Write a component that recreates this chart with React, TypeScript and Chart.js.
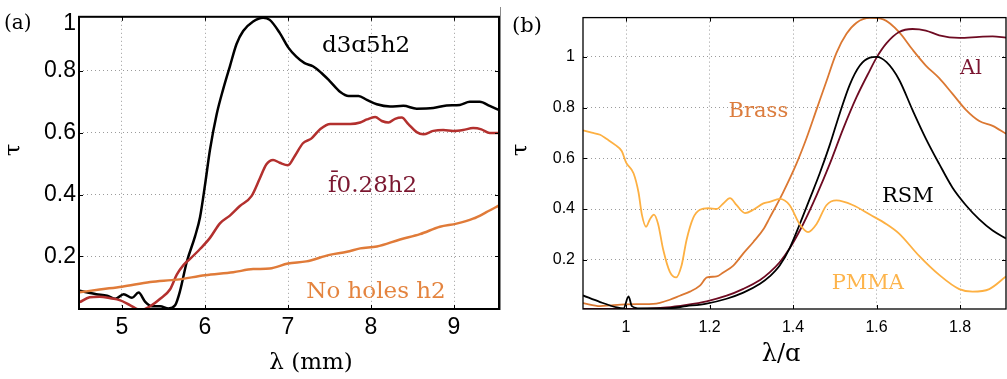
import React, { useEffect, useRef } from "react";
import { Chart, registerables } from "chart.js";

Chart.register(...registerables);

const SERIF = '"DejaVu Serif", "Liberation Serif", serif';
const SANS = '"Liberation Sans", Arial, sans-serif';

// ---------- Panel (a): τ vs λ (mm) ----------
const lamD3a5h2 = [4.49, 4.69, 4.82, 4.92, 5.02, 5.12, 5.2, 5.28, 5.36, 5.46, 5.56, 5.64, 5.7, 5.78, 5.88, 5.94, 6.0, 6.06, 6.14, 6.22, 6.3, 6.38, 6.46, 6.58, 6.7, 6.78, 6.9, 7.0, 7.1, 7.2, 7.3, 7.4, 7.5, 7.63, 7.73, 7.85, 7.95, 8.07, 8.23, 8.39, 8.55, 8.75, 8.91, 9.07, 9.19, 9.31, 9.43, 9.55];
const tauD3a5h2 = [0.089, 0.078, 0.073, 0.063, 0.078, 0.066, 0.083, 0.053, 0.039, 0.039, 0.032, 0.042, 0.089, 0.182, 0.265, 0.327, 0.431, 0.545, 0.659, 0.742, 0.815, 0.887, 0.929, 0.96, 0.972, 0.965, 0.923, 0.877, 0.846, 0.825, 0.815, 0.794, 0.768, 0.732, 0.719, 0.719, 0.706, 0.692, 0.685, 0.687, 0.678, 0.68, 0.688, 0.69, 0.7, 0.7, 0.687, 0.672];

const lamF028h2 = [4.49, 4.61, 4.73, 4.86, 4.98, 5.1, 5.22, 5.34, 5.46, 5.58, 5.66, 5.74, 5.82, 5.94, 6.06, 6.18, 6.3, 6.42, 6.56, 6.66, 6.74, 6.82, 6.9, 7.0, 7.08, 7.18, 7.28, 7.39, 7.51, 7.63, 7.75, 7.87, 7.95, 8.05, 8.13, 8.21, 8.29, 8.37, 8.45, 8.55, 8.63, 8.75, 8.87, 8.99, 9.11, 9.23, 9.33, 9.43, 9.55];
const tauF028h2 = [0.052, 0.068, 0.07, 0.065, 0.058, 0.042, 0.027, 0.039, 0.063, 0.094, 0.141, 0.172, 0.192, 0.224, 0.26, 0.307, 0.332, 0.363, 0.395, 0.452, 0.498, 0.512, 0.503, 0.495, 0.524, 0.566, 0.581, 0.612, 0.628, 0.628, 0.628, 0.633, 0.643, 0.651, 0.638, 0.633, 0.645, 0.649, 0.628, 0.602, 0.595, 0.606, 0.609, 0.606, 0.609, 0.615, 0.611, 0.599, 0.599];

const lamNoHoles = [4.49, 4.73, 5.0, 5.34, 5.66, 6.0, 6.34, 6.58, 6.78, 7.0, 7.22, 7.5, 7.71, 7.87, 8.07, 8.35, 8.59, 8.83, 9.03, 9.23, 9.39, 9.55];
const tauNoHoles = [0.084, 0.093, 0.102, 0.117, 0.125, 0.139, 0.149, 0.159, 0.161, 0.177, 0.184, 0.205, 0.215, 0.226, 0.232, 0.255, 0.272, 0.296, 0.306, 0.322, 0.343, 0.366];

const xTicksA = [5, 6, 7, 8, 9];
const yTicksA = [0.2, 0.4, 0.6, 0.8, 1];

// ---------- Panel (b): τ vs λ/a ----------
const lamRSM = [0.897, 0.938, 0.978, 0.994, 1.006, 1.014, 1.034, 1.097, 1.145, 1.193, 1.241, 1.281, 1.321, 1.344, 1.368, 1.392, 1.416, 1.44, 1.464, 1.488, 1.512, 1.536, 1.56, 1.584, 1.6, 1.624, 1.654, 1.686, 1.718, 1.75, 1.782, 1.814, 1.846, 1.878, 1.91];
const tauRSM = [0.059, 0.033, 0.012, 0.008, 0.055, 0.017, 0.008, 0.008, 0.017, 0.027, 0.046, 0.07, 0.105, 0.134, 0.177, 0.246, 0.34, 0.44, 0.541, 0.653, 0.778, 0.891, 0.966, 0.997, 1.0, 0.979, 0.91, 0.791, 0.678, 0.578, 0.484, 0.415, 0.359, 0.315, 0.284];

const lamAl = [0.897, 1.0, 1.097, 1.145, 1.193, 1.241, 1.281, 1.321, 1.344, 1.368, 1.392, 1.424, 1.456, 1.488, 1.52, 1.552, 1.584, 1.6, 1.624, 1.654, 1.686, 1.718, 1.75, 1.798, 1.846, 1.878, 1.91];
const tauAl = [0.006, 0.006, 0.012, 0.022, 0.036, 0.058, 0.085, 0.12, 0.15, 0.19, 0.245, 0.34, 0.453, 0.578, 0.716, 0.841, 0.947, 0.997, 1.054, 1.098, 1.11, 1.104, 1.085, 1.075, 1.079, 1.081, 1.076];

const lamBrass = [0.897, 0.938, 0.962, 1.0, 1.034, 1.065, 1.081, 1.105, 1.129, 1.153, 1.177, 1.194, 1.217, 1.233, 1.257, 1.281, 1.305, 1.329, 1.344, 1.376, 1.408, 1.432, 1.456, 1.48, 1.504, 1.528, 1.552, 1.584, 1.616, 1.654, 1.686, 1.718, 1.75, 1.782, 1.814, 1.846, 1.878, 1.91];
const tauBrass = [0.029, 0.017, 0.02, 0.024, 0.025, 0.026, 0.03, 0.042, 0.058, 0.074, 0.098, 0.13, 0.134, 0.15, 0.177, 0.225, 0.27, 0.32, 0.365, 0.465, 0.578, 0.678, 0.791, 0.904, 1.016, 1.091, 1.135, 1.154, 1.148, 1.098, 1.029, 0.966, 0.916, 0.854, 0.791, 0.747, 0.728, 0.697];

const lamPMMA = [0.897, 0.918, 0.938, 0.954, 0.974, 0.99, 1.0, 1.018, 1.03, 1.038, 1.048, 1.057, 1.067, 1.077, 1.089, 1.105, 1.12, 1.133, 1.145, 1.161, 1.177, 1.197, 1.217, 1.233, 1.249, 1.265, 1.285, 1.305, 1.329, 1.344, 1.368, 1.392, 1.416, 1.436, 1.456, 1.48, 1.504, 1.544, 1.584, 1.624, 1.654, 1.702, 1.75, 1.798, 1.83, 1.87, 1.91];
const tauPMMA = [0.71, 0.701, 0.693, 0.676, 0.653, 0.628, 0.584, 0.541, 0.465, 0.378, 0.33, 0.359, 0.378, 0.34, 0.24, 0.152, 0.13, 0.177, 0.278, 0.365, 0.397, 0.403, 0.4, 0.422, 0.443, 0.415, 0.384, 0.397, 0.422, 0.428, 0.44, 0.415, 0.34, 0.309, 0.34, 0.415, 0.434, 0.415, 0.378, 0.34, 0.303, 0.215, 0.14, 0.084, 0.074, 0.084, 0.134];

const xTicksB = [1, 1.2, 1.4, 1.6, 1.8];
const yTicksB = [0.2, 0.4, 0.6, 0.8, 1];

const GRID = "#9b9b9b";

type Series = { label: string; x: number[]; y: number[]; color: string };
type Note = { text: string; x: number; y: number; color: string; font: string };
type Txt = { text: string; x: number; y: number; font: string; rotate?: boolean; align?: CanvasTextAlign; baseline?: CanvasTextBaseline };

function pts(xs: number[], ys: number[]) {
  return xs.map((x, i) => ({ x, y: ys[i] }));
}

function fmt(v: number) {
  return String(Number(v.toFixed(2)));
}

function decorPlugin(frameWidth: number, tickLen: number, notes: Note[], texts: Txt[]) {
  return {
    id: "decor",
    afterDatasetsDraw(chart: any) {
      const { ctx, chartArea: a, scales } = chart;
      ctx.save();
      // inward tick marks on all four sides
      ctx.strokeStyle = "#000";
      ctx.lineWidth = 1;
      ctx.beginPath();
      for (const t of scales.x.ticks) {
        const px = Math.round(scales.x.getPixelForValue(t.value)) + 0.5;
        ctx.moveTo(px, a.bottom);
        ctx.lineTo(px, a.bottom - tickLen);
        ctx.moveTo(px, a.top);
        ctx.lineTo(px, a.top + tickLen);
      }
      for (const t of scales.y.ticks) {
        if (t.value >= scales.y.max - 1e-9) continue;
        const py = Math.round(scales.y.getPixelForValue(t.value)) + 0.5;
        ctx.moveTo(a.left, py);
        ctx.lineTo(a.left + tickLen, py);
        ctx.moveTo(a.right, py);
        ctx.lineTo(a.right - tickLen, py);
      }
      ctx.stroke();
      // frame
      ctx.lineWidth = frameWidth;
      ctx.strokeRect(a.left, a.top, a.right - a.left, a.bottom - a.top);
      // in-plot labels (data coordinates)
      ctx.textAlign = "center";
      ctx.textBaseline = "alphabetic";
      for (const n of notes) {
        ctx.font = n.font;
        ctx.fillStyle = n.color;
        ctx.fillText(n.text, scales.x.getPixelForValue(n.x), scales.y.getPixelForValue(n.y));
      }
      // axis titles / panel letters
      ctx.fillStyle = "#000";
      for (const t of texts) {
        ctx.save();
        ctx.font = t.font;
        ctx.textAlign = t.align || "center";
        ctx.textBaseline = t.baseline || "alphabetic";
        ctx.translate(t.x, t.y);
        if (t.rotate) ctx.rotate(-Math.PI / 2);
        ctx.fillText(t.text, 0, 0);
        ctx.restore();
      }
      ctx.restore();
    },
  };
}

type PanelCfg = {
  series: Series[];
  lineWidth: number;
  xMin: number;
  xMax: number;
  yMin: number;
  yMax: number;
  xTicks: number[];
  yTicks: number[];
  yAxisWidth: number;
  xAxisHeight: number;
  padding: { left: number; right: number; top: number; bottom: number };
  tickFont: number;
  xTickPad: number;
  yTickPad: number;
  yTopHack: boolean;
  frameWidth: number;
  notes: Note[];
  texts: Txt[];
};

function makeConfig(p: PanelCfg): any {
  return {
    type: "line",
    data: {
      datasets: p.series.map((s) => ({
        label: s.label,
        data: pts(s.x, s.y),
        borderColor: s.color,
        backgroundColor: s.color,
        borderWidth: p.lineWidth,
        pointRadius: 0,
        cubicInterpolationMode: "monotone",
        fill: false,
      })),
    },
    options: {
      animation: false,
      responsive: false,
      maintainAspectRatio: false,
      events: [],
      layout: { padding: p.padding },
      plugins: { legend: { display: false }, tooltip: { enabled: false }, title: { display: false } },
      scales: {
        x: {
          type: "linear",
          min: p.xMin,
          max: p.xMax,
          afterBuildTicks: (s: any) => {
            s.ticks = p.xTicks.map((v) => ({ value: v }));
          },
          afterFit: (s: any) => {
            s.height = p.xAxisHeight;
          },
          grid: { drawTicks: false, color: GRID, lineWidth: 1 },
          border: { display: false, dash: [1, 3] },
          ticks: {
            color: "#000",
            font: { family: SANS, size: p.tickFont },
            padding: p.xTickPad,
            maxRotation: 0,
            autoSkip: false,
            callback: (v: number) => fmt(v),
          },
        },
        y: {
          type: "linear",
          min: p.yMin,
          max: p.yMax,
          afterBuildTicks: (s: any) => {
            s.ticks = p.yTicks.map((v) => ({ value: Math.min(v, p.yMax) }));
          },
          afterFit: (s: any) => {
            s.width = p.yAxisWidth;
          },
          grid: {
            drawTicks: false,
            lineWidth: 1,
            color: (c: any) => (c.tick && c.tick.value >= p.yMax - 1e-9 ? "rgba(0,0,0,0)" : GRID),
          },
          border: { display: false, dash: [1, 3] },
          ticks: {
            color: "#000",
            font: { family: SANS, size: p.tickFont, lineHeight: p.yTopHack ? 0.6 : 1.2 },
            padding: p.yTickPad,
            autoSkip: false,
            callback: (v: number, i: number) => {
              const lab = fmt(p.yTicks[i]);
              if (p.yTopHack && p.yTicks[i] > p.yMax) return ["", lab];
              return lab;
            },
          },
        },
      },
    },
    plugins: [decorPlugin(p.frameWidth, 4, p.notes, p.texts)],
  };
}

const panelA: PanelCfg = {
  series: [
    { label: "No holes h2", x: lamNoHoles, y: tauNoHoles, color: "#e07b39" },
    { label: "f̄0.28h2", x: lamF028h2, y: tauF028h2, color: "#b3302e" },
    { label: "d3a5h2", x: lamD3a5h2, y: tauD3a5h2, color: "#000000" },
  ],
  lineWidth: 2.5,
  xMin: 4.482,
  xMax: 9.542,
  yMin: 0.03,
  yMax: 0.975,
  xTicks: xTicksA,
  yTicks: yTicksA,
  yAxisWidth: 79,
  xAxisHeight: 70,
  padding: { left: 0, right: 1, top: 5, bottom: 0 },
  tickFont: 23,
  xTickPad: 5,
  yTickPad: 3,
  yTopHack: true,
  frameWidth: 2,
  notes: [
    { text: "d3ɑ5h2", x: 7.94, y: 0.86, color: "#000000", font: `23px ${SERIF}` },
    { text: "f\u03040.28h2", x: 8.02, y: 0.409, color: "#7b1730", font: `23px ${SERIF}` },
    { text: "No holes h2", x: 8.06, y: 0.067, color: "#e4843f", font: `23px ${SERIF}` },
  ],
  texts: [
    { text: "λ (mm)", x: 311, y: 369, font: `23px ${SERIF}` },
    { text: "τ", x: 14, y: 150, font: `23px ${SERIF}`, rotate: true, baseline: "middle" },
    { text: "(a)", x: 4, y: 29, font: `20px ${SERIF}`, align: "left" },
  ],
};

const panelB: PanelCfg = {
  series: [
    { label: "PMMA", x: lamPMMA, y: tauPMMA, color: "#fdb042" },
    { label: "RSM", x: lamRSM, y: tauRSM, color: "#000000" },
    { label: "Al", x: lamAl, y: tauAl, color: "#6e0b22" },
    { label: "Brass", x: lamBrass, y: tauBrass, color: "#db7832" },
  ],
  lineWidth: 1.8,
  xMin: 0.897,
  xMax: 1.91,
  yMin: 0.0056,
  yMax: 1.155,
  xTicks: xTicksB,
  yTicks: yTicksB,
  yAxisWidth: 83,
  xAxisHeight: 70,
  padding: { left: 0, right: 1, top: 3, bottom: 0 },
  tickFont: 16,
  xTickPad: 9,
  yTickPad: 8,
  yTopHack: false,
  frameWidth: 1.3,
  notes: [
    { text: "Brass", x: 1.317, y: 0.764, color: "#dc7d3e", font: `21px ${SERIF}` },
    { text: "Al", x: 1.826, y: 0.933, color: "#7a1530", font: `21px ${SERIF}` },
    { text: "RSM", x: 1.675, y: 0.426, color: "#000000", font: `21px ${SERIF}` },
    { text: "PMMA", x: 1.579, y: 0.084, color: "#fdb44b", font: `21px ${SERIF}` },
  ],
  texts: [
    { text: "λ/ɑ", x: 281, y: 361, font: `24px ${SERIF}` },
    { text: "τ", x: 21, y: 150, font: `23px ${SERIF}`, rotate: true, baseline: "middle" },
    { text: "(b)", x: 12, y: 32, font: `21px ${SERIF}`, align: "left" },
  ],
};

function Panel({ cfg, left, width }: { cfg: PanelCfg; left: number; width: number }) {
  const ref = useRef<HTMLCanvasElement | null>(null);
  useEffect(() => {
    if (!ref.current) return;
    const chart = new Chart(ref.current, makeConfig(cfg));
    return () => chart.destroy();
  }, [cfg]);
  return (
    <canvas
      ref={ref}
      width={width}
      height={379}
      style={{ position: "absolute", left, top: 0, width, height: 379, display: "block" }}
    />
  );
}

export default function App() {
  return (
    <div
      style={{
        position: "fixed",
        left: 0,
        top: 0,
        width: 1007,
        height: 379,
        background: "#ffffff",
        overflow: "hidden",
      }}
    >
      <Panel cfg={panelA} left={0} width={500} />
      <Panel cfg={panelB} left={500} width={507} />
      <div style={{ position: "absolute", left: 500, top: 7, width: 1, height: 303, background: "#8a8a8a" }} />
    </div>
  );
}
